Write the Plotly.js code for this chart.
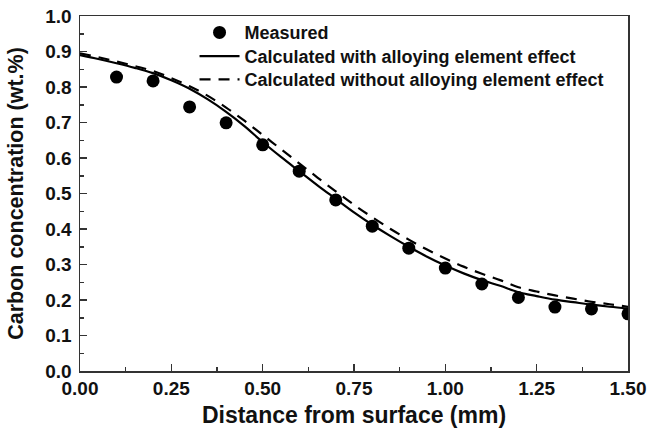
<!DOCTYPE html>
<html>
<head>
<meta charset="utf-8">
<script src="https://cdn.plot.ly/plotly-3.0.1.min.js"></script>
<style>html,body{margin:0;padding:0;background:#fff;}#chart{width:647px;height:443px;}</style>
</head>
<body>
<div id="chart"></div>
<script>
// Measured data
const measX = [0.1, 0.2, 0.3, 0.4, 0.5, 0.6, 0.7, 0.8, 0.9, 1.0, 1.1, 1.2, 1.3, 1.4, 1.5];
const measY = [0.828, 0.817, 0.744, 0.699, 0.637, 0.563, 0.482, 0.408, 0.346, 0.290, 0.245, 0.207, 0.180, 0.175, 0.161];

// Calculated with alloying element effect
const withX = [0, 0.05, 0.1, 0.15, 0.2, 0.25, 0.3, 0.35, 0.4, 0.45, 0.5, 0.55, 0.6, 0.65, 0.7, 0.75, 0.8, 0.85, 0.9, 0.95, 1.0, 1.05, 1.1, 1.15, 1.2, 1.25, 1.3, 1.35, 1.4, 1.45, 1.5];
const withY = [0.89, 0.879, 0.867, 0.854, 0.839, 0.819, 0.795, 0.765, 0.730, 0.690, 0.645, 0.603, 0.563, 0.523, 0.485, 0.447, 0.412, 0.380, 0.350, 0.322, 0.297, 0.275, 0.256, 0.240, 0.222, 0.211, 0.201, 0.194, 0.187, 0.181, 0.176];

// Calculated without alloying element effect
const woX = [0, 0.05, 0.1, 0.15, 0.2, 0.25, 0.3, 0.35, 0.4, 0.45, 0.5, 0.55, 0.6, 0.65, 0.7, 0.75, 0.8, 0.85, 0.9, 0.95, 1.0, 1.05, 1.1, 1.15, 1.2, 1.25, 1.3, 1.35, 1.4, 1.45, 1.5];
const woY = [0.895, 0.884, 0.872, 0.859, 0.845, 0.825, 0.802, 0.775, 0.742, 0.705, 0.665, 0.625, 0.585, 0.545, 0.506, 0.468, 0.433, 0.400, 0.370, 0.342, 0.317, 0.294, 0.274, 0.256, 0.236, 0.224, 0.213, 0.204, 0.195, 0.188, 0.181];

const xTicks = [0, 0.25, 0.5, 0.75, 1.0, 1.25, 1.5];
const xTickText = ["0.00", "0.25", "0.50", "0.75", "1.00", "1.25", "1.50"];
const yTicks = [0, 0.1, 0.2, 0.3, 0.4, 0.5, 0.6, 0.7, 0.8, 0.9, 1.0];

const FONT = "Liberation Sans, Arial, sans-serif";

const traces = [
  {x: measX, y: measY, mode: "markers", type: "scatter", name: "Measured", legend: "legend",
   marker: {color: "#000", size: 13, symbol: "circle"}},
  {x: withX, y: withY, mode: "lines", type: "scatter", name: "Calculated with alloying element effect", legend: "legend2",
   line: {color: "#000", width: 2.2, shape: "spline"}},
  {x: woX, y: woY, mode: "lines", type: "scatter", name: "Calculated without alloying element effect", legend: "legend3",
   line: {color: "#000", width: 2.2, dash: "11px,8px", shape: "spline"}}
];

function leg(y) {
  return {x: 0.209, y: y, xanchor: "left", yanchor: "top", bgcolor: "rgba(0,0,0,0)",
          font: {family: FONT, size: 18, color: "#111", weight: "bold"}, itemwidth: 40};
}

const layout = {
  width: 647, height: 443,
  margin: {l: 80, r: 19, t: 16, b: 72},
  paper_bgcolor: "#fff", plot_bgcolor: "#fff",
  showlegend: true,
  legend: leg(1.005),
  legend2: leg(0.938),
  legend3: leg(0.873),
  xaxis: {
    range: [0, 1.5], tickvals: xTicks, ticktext: xTickText,
    ticks: "inside", ticklen: 7, tickwidth: 1.5, tickcolor: "#333",
    minor: {dtick: 0.125, ticks: "inside", ticklen: 4, tickwidth: 1.5, tickcolor: "#333"},
    showline: true, linecolor: "#333", linewidth: 1.5, mirror: true,
    showgrid: false, zeroline: false,
    tickfont: {family: FONT, size: 19, color: "#111", weight: "bold"},
    title: {text: "Distance from surface (mm)", font: {family: FONT, size: 23, color: "#111", weight: "bold"}, standoff: 8}
  },
  yaxis: {
    range: [0, 1.0], tickvals: yTicks, tickformat: ".1f",
    ticks: "inside", ticklen: 7, tickwidth: 1.5, tickcolor: "#333",
    minor: {dtick: 0.05, ticks: "inside", ticklen: 4, tickwidth: 1.5, tickcolor: "#333"},
    showline: true, linecolor: "#333", linewidth: 1.5, mirror: true,
    showgrid: false, zeroline: false, ticklabelstandoff: 3,
    tickfont: {family: FONT, size: 19, color: "#111", weight: "bold"},
    title: {text: "Carbon concentration (wt.%)", font: {family: FONT, size: 21.5, color: "#111", weight: "bold"}, standoff: 16}
  }
};

Plotly.newPlot("chart", traces, layout, {staticPlot: true, displayModeBar: false});
</script>
</body>
</html>
